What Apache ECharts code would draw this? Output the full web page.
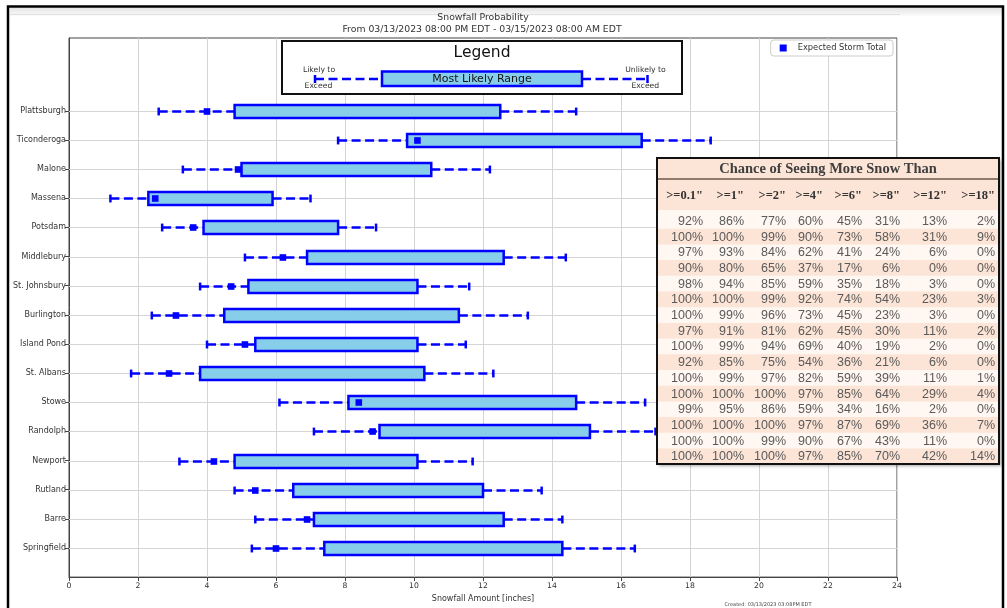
<!DOCTYPE html>
<html>
<head>
<meta charset="utf-8">
<title>Snowfall Probability</title>
<script src="https://cdn.jsdelivr.net/npm/echarts@6/dist/echarts.min.js"></script>
<style>
  html, body { margin: 0; padding: 0; background: #fff; }
  #snowChart { width: 1007px; height: 608px; }
</style>
</head>
<body>
<div id="snowChart"></div>
<script>
// sites, top to bottom
const sites = ["Plattsburgh", "Ticonderoga", "Malone", "Massena", "Potsdam", "Middlebury", "St. Johnsbury", "Burlington",
    "Island Pond", "St. Albans", "Stowe", "Randolph", "Newport", "Rutland", "Barre", "Springfield"];
// inches
const lowEnd = [2.6, 7.8, 3.3, 1.2, 2.7, 5.1, 3.8, 2.4, 4.0, 1.8, 6.1, 7.1, 3.2, 4.8, 5.4, 5.3];
const boxLow = [4.8, 9.8, 5.0, 2.3, 3.9, 6.9, 5.2, 4.5, 5.4, 3.8, 8.1, 9.0, 4.8, 6.5, 7.1, 7.4];
const boxHigh = [12.5, 16.6, 10.5, 5.9, 7.8, 12.6, 10.1, 11.3, 10.1, 10.3, 14.7, 15.1, 10.1, 12.0, 12.6, 14.3];
const highEnd = [14.7, 18.6, 12.2, 7.0, 8.9, 14.4, 11.6, 13.3, 11.5, 12.3, 16.7, 17.0, 11.7, 13.7, 14.3, 16.4];
const expected = [4.0, 10.1, 4.9, 2.5, 3.6, 6.2, 4.7, 3.1, 5.1, 2.9, 8.4, 8.8, 4.2, 5.4, 6.9, 6.0];

// chance table, one array per threshold (same site order)
const thresholds = ['>=0.1"', '>=1"', '>=2"', '>=4"', '>=6"', '>=8"', '>=12"', '>=18"'];
const pct01 = [92, 100, 97, 90, 98, 100, 100, 97, 100, 92, 100, 100, 99, 100, 100, 100];
const pct1 = [86, 100, 93, 80, 94, 100, 99, 91, 99, 85, 99, 100, 95, 100, 100, 100];
const pct2 = [77, 99, 84, 65, 85, 99, 96, 81, 94, 75, 97, 100, 86, 100, 99, 100];
const pct4 = [60, 90, 62, 37, 59, 92, 73, 62, 69, 54, 82, 97, 59, 97, 90, 97];
const pct6 = [45, 73, 41, 17, 35, 74, 45, 45, 40, 36, 59, 85, 34, 87, 67, 85];
const pct8 = [31, 58, 24, 6, 18, 54, 23, 30, 19, 21, 39, 64, 16, 69, 43, 70];
const pct12 = [13, 31, 6, 0, 3, 23, 3, 11, 2, 6, 11, 29, 2, 36, 11, 42];
const pct18 = [2, 9, 0, 0, 0, 3, 0, 2, 0, 0, 1, 4, 0, 7, 0, 14];
const chanceCols = [pct01, pct1, pct2, pct4, pct6, pct8, pct12, pct18];

const FONT = '"DejaVu Sans"';
const BLUE = "#0000ff";
const SKY = "#87ceeb";

let snowChart = echarts.init(document.getElementById("snowChart"));

// Springfield sits at y = 1, Plattsburgh at y = 16
let rows = sites.map((s, i) => [16 - i, lowEnd[i], boxLow[i], boxHigh[i], highEnd[i], expected[i]]);

function renderRow(params, api) {
    let y = api.value(0);
    let pLow = api.coord([api.value(1), y]);
    let pQ1 = api.coord([api.value(2), y]);
    let pQ3 = api.coord([api.value(3), y]);
    let pHigh = api.coord([api.value(4), y]);
    let pMean = api.coord([api.value(5), y]);
    let rowH = Math.abs(api.size([0, 1])[1]);
    let boxH = rowH * 0.44;
    let capH = rowH * 0.27;
    let cs = params.coordSys;
    let cy = Math.round(pLow[1]) + 0.5;
    let dash = { stroke: BLUE, lineWidth: 2.5, lineDash: [9, 4.5] };
    return {
        type: "group",
        children: [
            { type: "line", shape: { x1: cs.x, y1: cy, x2: cs.x + cs.width, y2: cy },
              style: { stroke: "#d4d4d4", lineWidth: 1 } },
            { type: "line", shape: { x1: pLow[0], y1: cy, x2: pQ1[0], y2: cy }, style: dash },
            { type: "line", shape: { x1: pQ3[0], y1: cy, x2: pHigh[0], y2: cy }, style: dash },
            { type: "line", shape: { x1: pLow[0], y1: cy - capH / 2, x2: pLow[0], y2: cy + capH / 2 },
              style: { stroke: BLUE, lineWidth: 2.5 } },
            { type: "line", shape: { x1: pHigh[0], y1: cy - capH / 2, x2: pHigh[0], y2: cy + capH / 2 },
              style: { stroke: BLUE, lineWidth: 2.5 } },
            { type: "rect", shape: { x: pQ1[0], y: cy - boxH / 2, width: pQ3[0] - pQ1[0], height: boxH },
              style: { fill: SKY, stroke: BLUE, lineWidth: 2.5 } },
            { type: "rect", shape: { x: pMean[0] - 3.3, y: cy - 3.3, width: 6.6, height: 6.6 },
              style: { fill: BLUE } },
        ],
    };
}

// chance-of-snow table, built from the arrays above
let tbl = { left: 657, top: 158, right: 999, bottom: 464, titleBottom: 179, headBottom: 210, rowTop: 213, rowH: 15.7 };
let colRight = [703, 744, 786, 823, 862, 900, 947, 995];
let tableBack = [];
let tableText = [];
tableBack.push({ type: "rect", shape: { x: tbl.left, y: tbl.top, width: tbl.right - tbl.left, height: tbl.bottom - tbl.top },
    style: { fill: "#fff7f1", shadowBlur: 3, shadowOffsetX: 2, shadowOffsetY: 2, shadowColor: "rgba(0,0,0,0.35)" } });
tableBack.push({ type: "rect", shape: { x: tbl.left, y: tbl.top, width: tbl.right - tbl.left, height: tbl.headBottom - tbl.top },
    style: { fill: "#fce4d6" } });
sites.forEach((s, i) => {
    if (i % 2 === 1) {
        let y0 = tbl.rowTop + i * tbl.rowH;
        let h = i === sites.length - 1 ? tbl.bottom - y0 : tbl.rowH;
        tableBack.push({ type: "rect", shape: { x: tbl.left, y: y0, width: tbl.right - tbl.left, height: h },
            style: { fill: "#fce4d6" } });
    }
});
tableText.push({ type: "text", x: (tbl.left + tbl.right) / 2, y: (tbl.top + tbl.titleBottom) / 2 + 1,
    style: { text: "Chance of Seeing More Snow Than", font: 'bold 14.5px "Liberation Serif"', fill: "#3f3f3f",
             align: "center", verticalAlign: "middle" } });
thresholds.forEach((t, c) => {
    tableText.push({ type: "text", x: colRight[c], y: 196,
        style: { text: t, font: 'bold 12.5px "Liberation Serif"', fill: "#333", align: "right", verticalAlign: "middle" } });
    chanceCols[c].forEach((v, i) => {
        tableText.push({ type: "text", x: colRight[c], y: tbl.rowTop + (i + 0.5) * tbl.rowH + 0.5,
            style: { text: v + "%", font: '12.5px "Liberation Sans"', fill: "#5a5a5a", align: "right", verticalAlign: "middle" } });
    });
});
let tableLines = [
    { type: "line", shape: { x1: tbl.left, y1: tbl.titleBottom, x2: tbl.right, y2: tbl.titleBottom },
      style: { stroke: "#6b5a4a", lineWidth: 1.5 } },
    { type: "rect", shape: { x: tbl.left, y: tbl.top, width: tbl.right - tbl.left, height: tbl.bottom - tbl.top },
      style: { fill: "none", stroke: "#111", lineWidth: 2 } },
];

// explanatory legend box
let legendBack = [
    { type: "rect", shape: { x: 282, y: 41, width: 400, height: 53 }, style: { fill: "#fff", stroke: "#111", lineWidth: 2 } },
    { type: "line", shape: { x1: 315, y1: 79, x2: 382, y2: 79 }, style: { stroke: BLUE, lineWidth: 2.5, lineDash: [9, 4.5] } },
    { type: "line", shape: { x1: 582, y1: 79, x2: 647.5, y2: 79 }, style: { stroke: BLUE, lineWidth: 2.5, lineDash: [9, 4.5] } },
    { type: "line", shape: { x1: 315, y1: 75, x2: 315, y2: 83 }, style: { stroke: BLUE, lineWidth: 2.5 } },
    { type: "line", shape: { x1: 647.5, y1: 75, x2: 647.5, y2: 83 }, style: { stroke: BLUE, lineWidth: 2.5 } },
    { type: "rect", shape: { x: 382, y: 71.5, width: 200, height: 14.5 }, style: { fill: SKY, stroke: BLUE, lineWidth: 2.5 } },
];
let legendText = [
    { type: "text", x: 482, y: 53, style: { text: "Legend", font: "15.5px " + FONT, fill: "#111", align: "center", verticalAlign: "middle" } },
    { type: "text", x: 482, y: 79, style: { text: "Most Likely Range", font: "11px " + FONT, fill: "#111", align: "center", verticalAlign: "middle" } },
    { type: "text", x: 319, y: 70.5, style: { text: "Likely to", font: "7.7px " + FONT, fill: "#333", align: "center", verticalAlign: "middle" } },
    { type: "text", x: 318.5, y: 86, style: { text: "Exceed", font: "7.7px " + FONT, fill: "#333", align: "center", verticalAlign: "middle" } },
    { type: "text", x: 645.5, y: 70.5, style: { text: "Unlikely to", font: "7.7px " + FONT, fill: "#333", align: "center", verticalAlign: "middle" } },
    { type: "text", x: 645.3, y: 86, style: { text: "Exceed", font: "7.7px " + FONT, fill: "#333", align: "center", verticalAlign: "middle" } },
];

let framing = [
    { type: "rect", shape: { x: 10, y: 8, width: 992, height: 9 },
      style: { fill: new echarts.graphic.LinearGradient(0, 0, 0, 1, [{ offset: 0, color: "#e4e4e4" }, { offset: 1, color: "#ffffff" }]) } },
    { type: "line", shape: { x1: 10, y1: 14.5, x2: 900, y2: 14.5 }, style: { stroke: "#e0e0e0", lineWidth: 1 } },
    { type: "rect", shape: { x: 8, y: 6.5, width: 995, height: 640 }, style: { fill: "none", stroke: "#000", lineWidth: 2.5 } },
];
let framingText = [
    { type: "text", x: 483, y: 18, style: { text: "Snowfall Probability", font: "9.3px " + FONT, fill: "#333", align: "center", verticalAlign: "middle" } },
    { type: "text", x: 482, y: 29.5, style: { text: "From 03/13/2023 08:00 PM EDT - 03/15/2023 08:00 AM EDT", font: "9.3px " + FONT, fill: "#333", align: "center", verticalAlign: "middle" } },
    { type: "text", x: 768, y: 605, style: { text: "Created: 03/13/2023 03:08PM EDT", font: "5px " + FONT, fill: "#444", align: "center", verticalAlign: "middle" } },
];

// stack the decorations above the series: every element gets its own z
function layer(els, z) {
    return els.map((el) => Object.assign({ z: z }, el));
}

let options = {
    animation: false,
    backgroundColor: "#fff",
    textStyle: { fontFamily: FONT },
    grid: {
        left: 69, right: 110, top: 38, bottom: 29,
        show: true, borderColor: "#444", borderWidth: 1, backgroundColor: "#fff",
    },
    legend: {
        data: ["Expected Storm Total"],
        right: 114, top: 40, z: 40,
        icon: "rect", itemWidth: 7, itemHeight: 7,
        padding: [4, 7, 4, 9],
        backgroundColor: "#fff", borderColor: "#cccccc", borderWidth: 1, borderRadius: 3,
        textStyle: { fontSize: 8.3, color: "#333", padding: [0, 0, 0, 6] },
    },
    xAxis: {
        type: "value", min: 0, max: 24, interval: 2,
        name: "Snowfall Amount [inches]", nameLocation: "middle", nameGap: 17,
        nameTextStyle: { fontSize: 8, color: "#333" },
        axisLine: { show: true, lineStyle: { color: "#444" } },
        axisTick: { show: true, length: 4, lineStyle: { color: "#444" } },
        axisLabel: { fontSize: 7.7, color: "#333", margin: 5 },
        splitLine: { show: true, lineStyle: { color: "#d4d4d4" } },
    },
    yAxis: {
        type: "value", min: 0, max: 18.5, interval: 1,
        axisLine: { show: true, lineStyle: { color: "#444" } },
        axisTick: { show: true, length: 4, customValues: rows.map((r) => r[0]), lineStyle: { color: "#444" } },
        axisLabel: {
            fontSize: 8, color: "#333", margin: 3,
            customValues: rows.map((r) => r[0]),
            formatter: (v) => (v >= 1 && v <= 16 ? sites[16 - v] : ""),
        },
        splitLine: { show: false },
    },
    series: [
        {
            name: "Expected Storm Total",
            type: "custom",
            renderItem: renderRow,
            itemStyle: { color: BLUE },
            encode: { x: [1, 2, 3, 4, 5], y: 0 },
            data: rows,
            clip: false,
        },
    ],
    graphic: [].concat(
        layer(legendBack, 50),
        layer(legendText, 51),
        layer(tableBack, 60),
        layer(tableText, 61),
        layer(tableLines, 62),
        layer(framing, 70),
        layer(framingText, 71)
    ),
};
snowChart.setOption(options);
</script>
</body>
</html>
